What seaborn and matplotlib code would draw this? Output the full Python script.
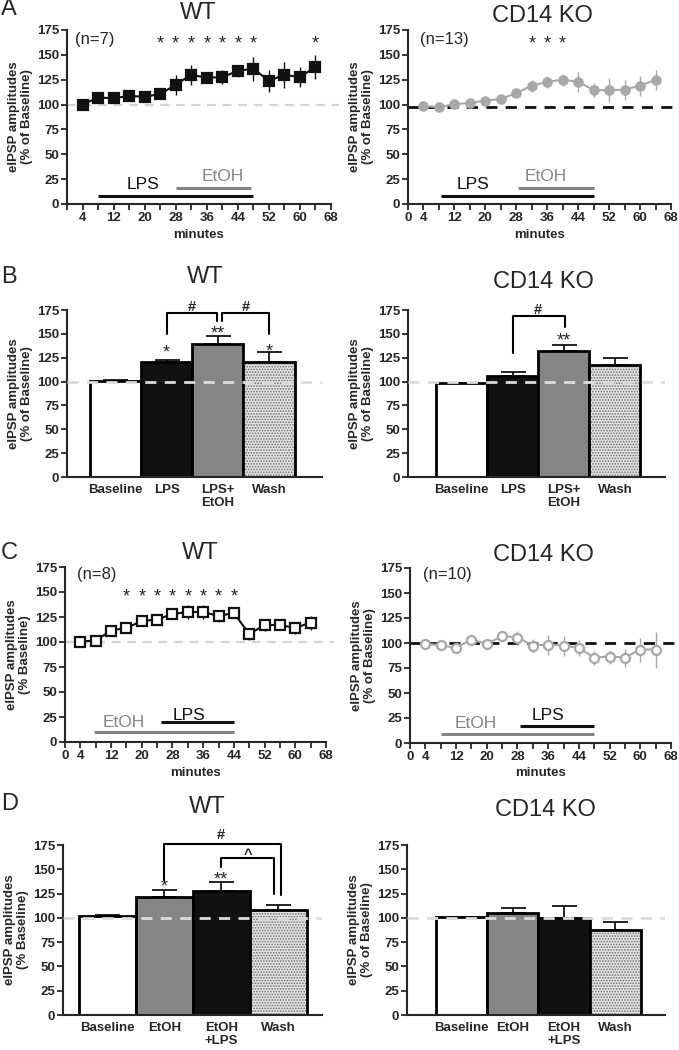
import numpy as np
import matplotlib
matplotlib.use('Agg')
import matplotlib.pyplot as plt
from matplotlib.patches import Rectangle
import seaborn as sns

# ---- time course data (% of baseline, mean and SEM) ----
minutes = [4, 8, 12, 16, 20, 24, 28, 32, 36, 40, 44, 48, 52, 56, 60, 64]

a_wt_mean = [100, 107, 106.5, 108.5, 108, 110.5, 120, 130, 127, 127.5, 134, 136, 124, 130, 127.5, 138]
a_wt_sem = [2, 3, 3, 3, 3, 5, 10, 10, 5, 7, 6, 12, 11, 13, 10, 12]
a_ko_mean = [98.5, 97.5, 100.5, 101.5, 104, 105.5, 111.5, 119, 123, 125, 123, 114.5, 114.5, 115, 119, 125]
a_ko_sem = [1.5, 1.5, 2, 2, 2, 2, 4, 6, 6, 6, 10, 7, 12, 10, 10, 10]

c_wt_mean = [100.5, 101.5, 111.5, 114, 121, 122.5, 128, 130, 130, 126, 129, 108, 117, 117, 114, 119.5]
c_wt_sem = [2, 2, 3, 3, 4, 4, 4, 7, 7, 6, 5, 6, 6, 5, 6, 7]
c_ko_mean = [99, 98, 95, 103.5, 99, 107, 105.5, 97.5, 98.5, 97.5, 95, 85.5, 86.5, 85.5, 93.5, 93.5]
c_ko_sem = [1, 2, 3, 3, 2, 3, 7, 7, 10, 10, 8, 7, 7, 9, 12, 18]

a_wt_stars = [24, 28, 32, 36, 40, 44, 48, 64]
a_ko_stars = [32, 36, 40]
c_wt_stars = [16, 20, 24, 28, 32, 36, 40, 44]

# treatment bars: (label, start, end, level)
a_wt_treat = [('LPS', 8, 48, 8.5), ('EtOH', 28, 47.5, 16)]
a_ko_treat = [('LPS', 8.5, 48, 8), ('EtOH', 28.5, 48, 16)]
c_wt_treat = [('EtOH', 7.5, 44, 10), ('LPS', 25, 44, 20)]
c_ko_treat = [('EtOH', 8.2, 48, 9), ('LPS', 28.7, 48, 16.7)]

# ---- bar data ----
b_labels = ['Baseline', 'LPS', 'LPS+\nEtOH', 'Wash']
b_wt_mean = [101, 120, 139, 121]
b_wt_sem = [0.8, 3, 9, 10]
b_ko_mean = [98.5, 106, 132.5, 117.5]
b_ko_sem = [0.5, 4, 6, 7]

d_labels = ['Baseline', 'EtOH', 'EtOH\n+LPS', 'Wash']
d_wt_mean = [102, 121.5, 128, 108]
d_wt_sem = [0.5, 7, 9, 5]
d_ko_mean = [100.5, 105, 100, 87]
d_ko_sem = [0.5, 5.5, 12, 8.5]

BLACK = '#111111'
GRAY = '#858585'
LIGHT = '#a8a8a8'
WASH = '#e2e2e2'

b_colors = ['white', BLACK, GRAY, WASH]
d_colors = ['white', GRAY, BLACK, WASH]

sns.set_style('ticks')
plt.rcParams['font.family'] = ['Liberation Sans', 'DejaVu Sans']
plt.rcParams['hatch.linewidth'] = 0.8

W, H = 679, 1050
fig = plt.figure(figsize=(W / 100, H / 100), dpi=100)


def px_axes(x0, x1, y0, y1):
    return fig.add_axes([x0 / W, 1 - y1 / H, (x1 - x0) / W, (y1 - y0) / H])


def base_style(ax, ylabel):
    sns.despine(ax=ax)
    for s in ['left', 'bottom']:
        ax.spines[s].set_linewidth(1.5)
    ax.set_ylim(0, 175)
    yt = list(range(0, 176, 25))
    ax.set_yticks(yt, [str(v) for v in yt], fontweight='bold', fontsize=9.5)
    ax.tick_params(axis='y', direction='out', length=4, width=1.3, pad=1.5)
    ax.set_ylabel(ylabel, fontweight='bold', fontsize=9.5, labelpad=3, linespacing=1.1)


def time_panel(ax, mean, sem, color, marker, face, ms, dash_color, dash_y, dash_lw,
               stars, star_y, n_text, n_pos, treat, treat_text, zero_label, ylabel):
    base_style(ax, ylabel)
    ax.set_xlim(0, 68)
    xt = list(range(0, 69, 4))
    xl = [str(t) if (t - 4) % 8 == 0 or t == 4 else '' for t in xt]
    if zero_label:
        xl[0] = '0'
    ax.set_xticks(xt, xl, fontweight='bold', fontsize=9.5)
    ax.tick_params(axis='x', direction='out', length=4, width=1.3, pad=2)
    ax.set_xlabel('minutes', fontweight='bold', fontsize=9.5, labelpad=3)

    ax.axhline(dash_y, xmin=0.0, xmax=1.03, color=dash_color, lw=dash_lw,
               dashes=(4, 3), zorder=1, clip_on=False)
    ax.errorbar(minutes, mean, yerr=sem, fmt='none', ecolor=color, elinewidth=1, zorder=2)
    sns.lineplot(x=minutes, y=mean, ax=ax, color=color, lw=1.5, marker=marker,
                 markersize=ms, markerfacecolor=face, markeredgecolor=color,
                 markeredgewidth=1.6, zorder=3)
    for t in stars:
        ax.text(t, star_y - 4, '*', ha='center', va='center', fontsize=13)
    ax.text(n_pos[0], n_pos[1], n_text, ha='left', va='center', fontsize=12)
    for (lab, x0, x1, lvl), (tx, ty) in zip(treat, treat_text):
        c = BLACK if lab == 'LPS' else GRAY
        ax.plot([x0, x1], [lvl, lvl], color=c, lw=2.2, solid_capstyle='butt')
        ax.text(tx, ty, lab, color=c, ha='center', va='center', fontsize=12.5)


def bar_panel(ax, labels, mean, sem, colors, xlim, brackets, stars, ylabel):
    base_style(ax, ylabel)
    pal = dict(zip(labels, colors))
    sns.barplot(x=labels, y=mean, hue=labels, order=labels, hue_order=labels,
                palette=pal, legend=False, width=1, saturation=1,
                edgecolor='black', linewidth=2, ax=ax, zorder=2)
    bars = [c[0] for c in ax.containers]
    wash = bars[-1]
    wash.set_hatch('......')
    wash.set_edgecolor('#6e6e6e')
    wash.set_linewidth(0)
    ax.add_patch(Rectangle(wash.get_xy(), wash.get_width(), wash.get_height(),
                           fill=False, edgecolor='black', lw=2, zorder=2.5))
    xs = np.arange(len(labels))
    ax.errorbar(xs, mean, yerr=[np.zeros(len(sem)), sem], fmt='none', ecolor='black',
                elinewidth=1.2, capsize=9, capthick=1.2, zorder=1.5)
    ax.axhline(100, color='#dcdcdc', lw=2, dashes=(4, 3), zorder=3)
    ax.set_xlim(*xlim)
    ax.set_xticks(xs, labels, fontweight='bold', fontsize=9.5, linespacing=1.1)
    ax.tick_params(axis='x', length=0, pad=5)
    ax.set_xlabel('')
    for x1, x2, top, y1, y2, sym, tx, ty in brackets:
        ax.plot([x1, x1, x2, x2], [y1, top, top, y2], color='black', lw=1.5,
                clip_on=False, zorder=4)
        ax.text(tx, ty, sym, ha='center', va='center', fontsize=10.5, fontweight='bold')
    for x, y, s in stars:
        ax.text(x, y - 4, s, ha='center', va='center', fontsize=13)


ax = px_axes(67, 331, 30, 204)
time_panel(ax, a_wt_mean, a_wt_sem, BLACK, 's', BLACK, 7, '#d4d4d4', 100, 1.6,
           a_wt_stars, 165, '(n=7)', (2, 165), a_wt_treat, [(19.6, 19.5), (40, 28)],
           False, 'eIPSP amplitudes\n(% of Baseline)')

ax = px_axes(408, 671, 30, 204)
time_panel(ax, a_ko_mean, a_ko_sem, LIGHT, 'o', LIGHT, 6, BLACK, 98, 2,
           a_ko_stars, 165, '(n=13)', (3, 165), a_ko_treat, [(16.9, 19.5), (35.6, 28)],
           True, 'eIPSP amplitudes\n(% of Baseline)')

ax = px_axes(67, 322, 310, 477)
bar_panel(ax, b_labels, b_wt_mean, b_wt_sem, b_colors, (-0.94, 4.03),
          [(1, 1.98, 172, 150, 163, '#', 1.5, 178.5),
           (2.08, 3, 172, 163, 150, '#', 2.55, 178.5)],
          [(1, 134, '*'), (2, 154, '**'), (3, 135, '*')],
          'eIPSP amplitudes\n(% of Baseline)')

ax = px_axes(408, 665, 310, 477)
bar_panel(ax, b_labels, b_ko_mean, b_ko_sem, b_colors, (-1.05, 3.98),
          [(1, 2.03, 169, 129.5, 157.5, '#', 1.5, 175.5)],
          [(2, 147, '**')],
          'eIPSP amplitudes\n(% of Baseline)')

ax = px_axes(65, 326, 567, 742)
time_panel(ax, c_wt_mean, c_wt_sem, BLACK, 's', 'white', 7.5, '#d4d4d4', 100, 1.6,
           c_wt_stars, 149, '(n=8)', (3, 167), c_wt_treat, [(15.3, 19.3), (32.3, 27)],
           True, 'eIPSP amplitudes\n(% Baseline)')

ax = px_axes(410, 671, 568, 743)
time_panel(ax, c_ko_mean, c_ko_sem, LIGHT, 'o', 'white', 6.5, BLACK, 100, 2,
           [], 0, '(n=10)', (3.3, 168), c_ko_treat, [(17, 19), (36, 27)],
           True, 'eIPSP amplitudes\n(% of Baseline)')

ax = px_axes(63, 322, 845, 1015)
bar_panel(ax, d_labels, d_wt_mean, d_wt_sem, d_colors, (-0.78, 3.77),
          [(0.99, 3.05, 175.7, 139, 123.5, '#', 2.0, 185),
           (1.99, 2.93, 162, 152.7, 125, '^', 2.46, 165)],
          [(1, 136, '*'), (2, 143, '**')],
          'eIPSP amplitudes\n(% Baseline)')

ax = px_axes(407, 665, 845, 1015)
bar_panel(ax, d_labels, d_ko_mean, d_ko_sem, d_colors, (-1.06, 3.97),
          [], [], 'eIPSP amplitudes\n(% of Baseline)')

# titles and panel letters (pixel positions)
titles = [('WT', 198, 13), ('CD14 KO', 542, 16), ('WT', 205, 277), ('CD14 KO', 543, 282),
          ('WT', 200, 553), ('CD14 KO', 543, 555), ('WT', 207, 807), ('CD14 KO', 545, 810)]
for txt, x, y in titles:
    fig.text(x / W, 1 - y / H, txt, ha='center', va='center', fontsize=17)
letters = [('A', 9), ('B', 277), ('C', 553), ('D', 804)]
for txt, y in letters:
    fig.text(1 / W, 1 - y / H, txt, ha='left', va='center', fontsize=17)

fig.savefig('out.png', dpi=100)
